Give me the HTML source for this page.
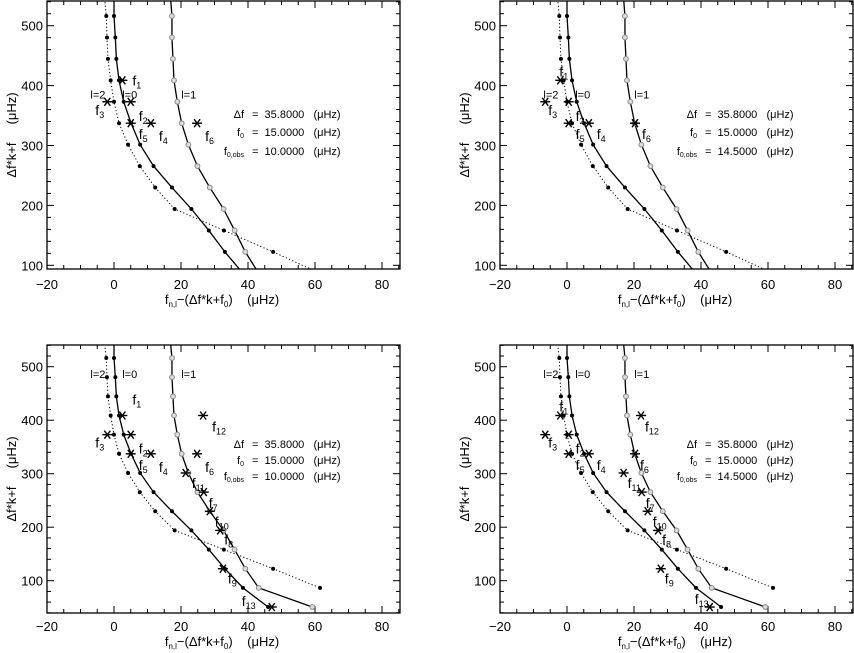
<!DOCTYPE html>
<html><head><meta charset="utf-8"><style>
html,body{margin:0;padding:0;background:#fff;}
svg{display:block;font-family:"Liberation Sans",sans-serif;}
</style></head><body>
<svg id="chart" width="854" height="653" viewBox="0 0 854 653" xmlns="http://www.w3.org/2000/svg"></svg>
<script>
// ---- data ----
const orderY = [516.2, 480.4, 444.6, 408.8, 373.0, 337.2, 301.4, 265.6, 229.8, 194.0, 158.2, 122.4, 86.6, 50.8];
const l0X = [0.0, 0.4, 0.7, 1.5, 2.9, 5.1, 7.8, 11.8, 17.3, 23.1, 28.3, 33.1, 38.5, 46.0];
const l2X = [-2.3, -2.1, -1.8, -1.0, 0.0, 1.5, 4.2, 7.7, 12.3, 18.1, 32.8, 47.5, 61.5];
const l2Y = [516.2, 480.4, 444.6, 408.8, 373.0, 337.2, 301.4, 265.6, 229.8, 194.0, 158.2, 122.4, 86.6];
const l1X = [17.3, 17.3, 17.6, 17.9, 18.9, 20.2, 22.2, 24.9, 28.6, 32.7, 36.0, 39.2, 43.2, 59.2];
const topX = [0.0, -2.8, 16.9];   // curve ends extended to the top edge (l=0, l=2, l=1)
const starNames = ["1","2","3","4","5","6","7","8","9","10","11","12","13"];
const starX = [2.5, 5.0, -2.0, 11.0, 5.0, 24.8, 26.8, 31.7, 32.5, 28.6, 21.4, 26.6, 47.1];
const starY = [408.8, 373.0, 373.0, 337.2, 337.2, 337.2, 265.6, 194.0, 122.4, 229.8, 301.4, 408.8, 50.8];
const xTicks = [-20, 0, 20, 40, 60, 80];
const yTicks = [100, 200, 300, 400, 500];
const infoLabels = ["\u0394f", "f0", "f0,obs"];
const infoValuesA = ["35.8000", "15.0000", "10.0000"];
const infoValuesB = ["35.8000", "15.0000", "14.5000"];

const panels = [
 {name:"top-left", bx:47, by:1, bw:353, bh:268, y500:25.7, y100:265.3, ymax:545, ymin:92, shift:0, nStars:6, info:infoValuesA, infoY:[114,132,151], lY:385, tickY:289, titleY:304,
  off:[[10,5],[8,19],[-12,13],[8,18],[8,16],[8,18]]},
 {name:"top-right", bx:500, by:1, bw:353, bh:268, y500:25.7, y100:265.3, ymax:545, ymin:92, shift:4.5, nStars:6, info:infoValuesB, infoY:[114,132,151], lY:385, tickY:289, titleY:304,
  off:[[-1,-4],[7,19],[3,13],[8,16],[7,16],[7,16]]},
 {name:"bottom-left", bx:47, by:345, bw:353, bh:268, y500:366.7, y100:580.7, ymax:542, ymin:38, shift:0, nStars:13, info:infoValuesA, infoY:[444,460,476], lY:486, tickY:631, titleY:646,
  off:[[10,-11],[8,19],[-12,13],[8,18],[8,16],[8,18],[5,16],[4,14],[5,15],[5,15],[6,15],[9,16],[-30,-1]]},
 {name:"bottom-right", bx:500, by:345, bw:353, bh:268, y500:366.7, y100:580.7, ymax:542, ymin:38, shift:4.5, nStars:13, info:infoValuesB, infoY:[444,460,476], lY:486, tickY:631, titleY:646,
  off:[[-1,-4],[7,19],[3,13],[8,16],[7,16],[5,16],[4,16],[4,14],[4,15],[5,15],[4,15],[4,16],[-15,-3]]}
];

const NS = "http://www.w3.org/2000/svg";
const svg = document.getElementById("chart");
function mk(tag, attrs, parent){const e=document.createElementNS(NS,tag);for(const k in attrs)e.setAttribute(k,attrs[k]);(parent||svg).appendChild(e);return e;}

panels.forEach((p, pi) => {
  const g = mk("g", {});
  
  
  const sx = v => p.bx + (v + 20) * 3.35;
  const sy = v => p.y100 - (v - 100) * (p.y100 - p.y500) / 400;
  const clipId = "clip" + pi;
  const cp = mk("clipPath", {id: clipId}, g);
  mk("rect", {x:p.bx, y:p.by, width:p.bw, height:p.bh}, cp);

  // axes box
  const box = mk("rect", {x:p.bx, y:p.by, width:p.bw, height:p.bh, fill:"none", stroke:"#000", "stroke-width":1.3}, g);
  
  
  // x ticks
  for (let v = -20; v <= 85; v += 5) {
    const len = (v % 20 === 0) ? 7 : 4;
    const x = sx(v);
    mk("line", {x1:x, y1:p.by+p.bh, x2:x, y2:p.by+p.bh-len, stroke:"#000"}, g);
    mk("line", {x1:x, y1:p.by, x2:x, y2:p.by+len, stroke:"#000"}, g);
  }
  for (let v = 0; v <= 560; v += 20) {
    const y = sy(v);
    if (y < p.by || y > p.by + p.bh) continue;
    const len = (v % 100 === 0) ? 7 : 4;
    mk("line", {x1:p.bx, y1:y, x2:p.bx+len, y2:y, stroke:"#000"}, g);
    mk("line", {x1:p.bx+p.bw, y1:y, x2:p.bx+p.bw-len, y2:y, stroke:"#000"}, g);
  }
  xTicks.forEach(v => {
    const t = mk("text", {x:sx(v), y:p.tickY, "text-anchor":"middle", "font-size":13}, g);
    t.textContent = v < 0 ? "\u2212" + (-v) : String(v);
    
    
  });
  yTicks.forEach(v => {
    const t = mk("text", {x:p.bx-4, y:sy(v)+5, "text-anchor":"end", "font-size":13}, g);
    t.textContent = String(v);
    
    
  });
  // axis titles
  const yt = mk("text", {transform:`translate(${p.bx-31},${p.by+p.bh/2}) rotate(-90)`, "text-anchor":"middle", "font-size":13}, g);
  yt.textContent = "\u0394f*k+f\u00a0\u00a0\u00a0\u00a0\u00a0(\u03bcHz)";
  
  
  const xt = mk("text", {x:p.bx+175, y:p.titleY, "text-anchor":"middle", "font-size":13}, g);
  xt.innerHTML = 'f<tspan font-size="8" dy="3">n,l</tspan><tspan dy="-3">\u2212(\u0394f*k+f</tspan><tspan font-size="8" dy="3">0</tspan><tspan dy="-3">)\u00a0\u00a0\u00a0\u00a0(\u03bcHz)</tspan>';
  
  

  const pg = mk("g", {"clip-path":`url(#${clipId})`}, g);
  function poly(xs, ys, tx, attrs, name) {
    let pts = [[sx(tx), sy(p.ymax)]];
    xs.forEach((v, i) => pts.push([sx(v), sy(ys[i])]));
    const el = mk("polyline", Object.assign({points: pts.map(q => q.join(",")).join(" "), fill:"none"}, attrs), pg);
    
    
  }
  poly(l2X, l2Y, topX[1], {stroke:"#000", "stroke-width":1, "stroke-dasharray":"1.2,2.3"}, "l2-curve");
  poly(l0X, orderY, topX[0], {stroke:"#000", "stroke-width":1.3}, "l0-curve");
  poly(l1X, orderY, topX[2], {stroke:"#000", "stroke-width":1.3}, "l1-curve");
  l2X.forEach((v, i) => { const c = mk("circle", {cx:sx(v), cy:sy(l2Y[i]), r:2, fill:"#000"}, pg);
      });
  l0X.forEach((v, i) => { const c = mk("circle", {cx:sx(v), cy:sy(orderY[i]), r:2, fill:"#000"}, pg);
      });
  l1X.forEach((v, i) => { const c = mk("circle", {cx:sx(v), cy:sy(orderY[i]), r:2.4, fill:"#ddd", stroke:"#888", "stroke-width":1}, pg);
      });

  // degree labels
  [["l=2",-4.8],["l=0",4.7],["l=1",22.3]].forEach(d => {
    const t = mk("text", {x:sx(d[1]), y:sy(p.lY)+4, "text-anchor":"middle", "font-size":11}, g);
    t.textContent = d[0];
    
    
  });

  // observed stars
  for (let i = 0; i < p.nStars; i++) {
    const cx = sx(starX[i] - p.shift), cy = sy(starY[i]);
    const sg = mk("g", {stroke:"#000", "stroke-width":1.4}, g);
    
    
    const r = 5;
    mk("line", {x1:cx-r, y1:cy, x2:cx+r, y2:cy}, sg);
    mk("line", {x1:cx-r*0.6, y1:cy-r*0.8, x2:cx+r*0.6, y2:cy+r*0.8}, sg);
    mk("line", {x1:cx-r*0.6, y1:cy+r*0.8, x2:cx+r*0.6, y2:cy-r*0.8}, sg);
    const o = p.off[i];
    const t = mk("text", {x:cx+o[0], y:cy+o[1], "font-size":14}, g);
    t.innerHTML = 'f<tspan font-size="9" dy="3">' + starNames[i] + '</tspan>';
    
    
  }

  // info block
  const eqX = p.bx + 205;
  infoLabels.forEach((lab, i) => {
    const y = p.infoY[i] + 4;
    const l = mk("text", {x:eqX-8, y:y, "text-anchor":"end", "font-size":11}, g);
    if (i === 0) l.textContent = lab;
    else l.innerHTML = 'f<tspan font-size="7" dy="2">' + (i===1?'0':'0,obs') + '</tspan>';
    
    
    const v = mk("text", {x:eqX, y:y, "font-size":11}, g);
    v.textContent = "=\u00a0\u00a0" + p.info[i] + "\u00a0\u00a0\u00a0(\u03bcHz)";
    
    
  });
});
</script>
</body></html>
